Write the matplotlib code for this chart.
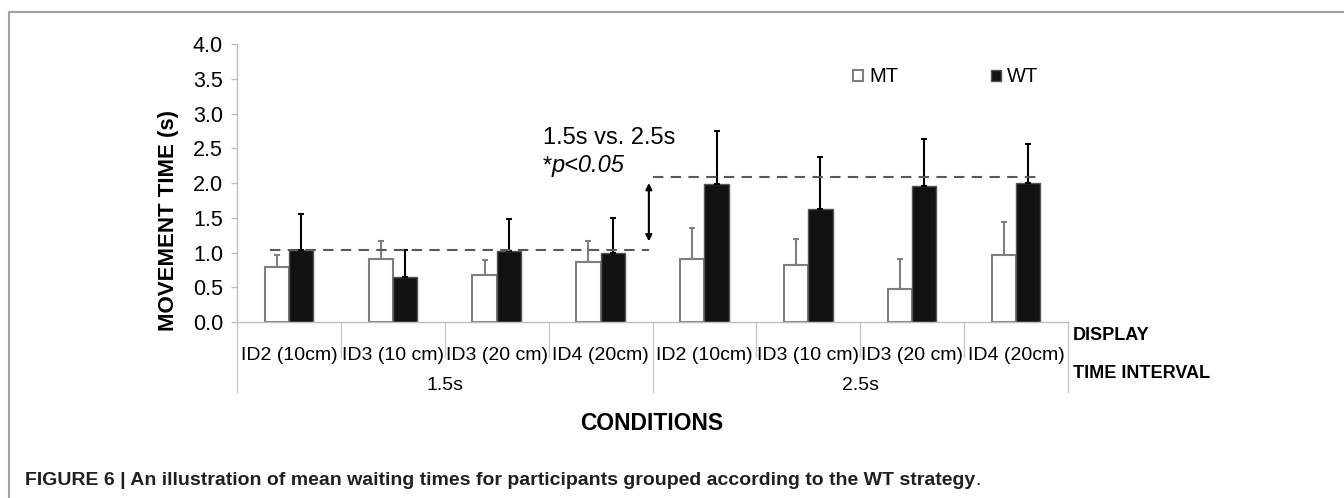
import matplotlib
matplotlib.use("Agg")
import matplotlib.pyplot as plt
import matplotlib.transforms as mtransforms
from matplotlib.patches import Patch
from matplotlib.lines import Line2D
from matplotlib.text import Annotation
import numpy as np

plt.rcParams['font.family'] = ['Liberation Sans', 'DejaVu Sans']

# ---------------- data ----------------
displays = ["ID2 (10cm)", "ID3 (10 cm)", "ID3 (20 cm)", "ID4 (20cm)",
            "ID2 (10cm)", "ID3 (10 cm)", "ID3 (20 cm)", "ID4 (20cm)"]
intervals = ["1.5s", "2.5s"]
mt_mean = [0.79, 0.90, 0.68, 0.86, 0.90, 0.82, 0.48, 0.96]
mt_err = [0.17, 0.27, 0.21, 0.30, 0.45, 0.37, 0.43, 0.48]
wt_mean = [1.04, 0.65, 1.02, 0.99, 1.99, 1.63, 1.96, 2.00]
wt_err = [0.51, 0.38, 0.46, 0.51, 0.76, 0.74, 0.68, 0.56]
ref_low = 1.04
ref_high = 2.09
arrow_lo, arrow_hi = 1.16, 2.00
yticks = [0.0, 0.5, 1.0, 1.5, 2.0, 2.5, 3.0, 3.5, 4.0]

W, H = 1344, 498
fig = plt.figure(figsize=(W / 100, H / 100), dpi=100)
ax = fig.add_axes([237 / W, 1 - 322 / H, (1068 - 237) / W, (322 - 44) / H])

x = np.arange(len(displays))
bw = 0.234
gray = '#7f7f7f'
ax.bar(x - bw / 2, mt_mean, bw, color='white', edgecolor=gray, linewidth=1.5, zorder=2)
ax.bar(x + bw / 2, wt_mean, bw, color='#111111', edgecolor='#555555', linewidth=1.0, zorder=2)
ax.errorbar(x - bw / 2, mt_mean, yerr=[np.zeros(len(mt_err)), mt_err], fmt='none',
            ecolor=gray, elinewidth=1.5, capsize=2.5, capthick=1.5, zorder=1)
ax.errorbar(x + bw / 2, wt_mean, yerr=[np.zeros(len(wt_err)), wt_err], fmt='none',
            ecolor='black', elinewidth=1.5, capsize=2.5, capthick=1.5, zorder=3)

ax.set_xlim(-0.5, len(displays) - 0.5)
ax.set_ylim(0, 4.0)
ax.set_yticks(yticks)
ax.set_yticklabels([f"{v:.1f}" for v in yticks], fontsize=15.5)
ax.tick_params(axis='y', length=4, width=1, color='#bfbfbf', pad=6)
ax.set_xticks(x)
ax.set_xticklabels(displays, fontsize=14)
ax.tick_params(axis='x', length=0, pad=18)

for s in ['top', 'right']:
    ax.spines[s].set_visible(False)
ax.spines['left'].set_color('#bfbfbf')
ax.spines['bottom'].set_color('#bfbfbf')
ax.spines['left'].set_linewidth(1)
ax.spines['bottom'].set_linewidth(1)

# separators below axis
trans = mtransforms.blended_transform_factory(ax.transData, ax.transAxes)
short_y = -(357 - 322) / (322 - 44)
long_y = -(392 - 322) / (322 - 44)
for b in np.arange(-0.5, len(displays), 1.0):
    is_group = b in (-0.5, 3.5, 7.5)
    ax.plot([b, b], [0, long_y if is_group else short_y], color='#c8c8c8', lw=1,
            transform=trans, clip_on=False)

gy = -(385 - 322) / (322 - 44)
for gi, lab in enumerate(intervals):
    ax.text(gi * 4 + 1.5, gy, lab, transform=trans, ha='center', va='center', fontsize=14)

# reference lines and arrow
ax.plot([-0.18, 3.47], [ref_low, ref_low], ls=(0, (5, 3.5)), color='#595959', lw=1.5, zorder=4)
ax.plot([3.5, 7.23], [ref_high, ref_high], ls=(0, (5, 3.5)), color='#595959', lw=1.5, zorder=4)
ax.annotate('', xy=(3.465, arrow_hi), xytext=(3.465, arrow_lo),
            arrowprops=dict(arrowstyle='<|-|>', color='black', lw=1.5, mutation_scale=9,
                            shrinkA=0, shrinkB=0))

ax.text(2.445, 2.65, "1.5s vs. 2.5s", fontsize=17, ha='left', va='center')
t2 = ax.text(2.445, 2.24, "*", fontsize=17, ha='left', va='center')
ax.annotate("p<0.05", xy=(1, 0), xycoords=t2, fontsize=17, style='italic',
            ha='left', va='bottom')

# y label
ax.set_ylabel("MOVEMENT TIME (s)", fontsize=16, fontweight='bold', va='center')
ax.yaxis.set_label_coords(-(237 - 168) / (1068 - 237), (322 - 220) / (322 - 44))

# row titles
fig.text(1073 / W, 1 - 336 / H, "DISPLAY", fontsize=13, fontweight='bold', va='center')
fig.text(1073 / W, 1 - 373 / H, "TIME INTERVAL", fontsize=13, fontweight='bold', va='center')
fig.text(652 / W, 1 - 423 / H, "CONDITIONS", fontsize=16.5, fontweight='bold',
         ha='center', va='center')

# legend
handles = [Patch(facecolor='white', edgecolor=gray, linewidth=1.5),
           Patch(facecolor='#111111', edgecolor='#555555', linewidth=1.0)]
fig.legend(handles, ["MT", "WT"], ncol=2, frameon=False, fontsize=14.5,
           loc='center left', bbox_to_anchor=(853 / W, 1 - 77 / H),
           handlelength=0.5, handleheight=0.5, handletextpad=0.3,
           columnspacing=4.6, borderpad=0, borderaxespad=0)

# frame
fig.add_artist(Line2D([9 / W, 1.0], [1 - 12 / H, 1 - 12 / H], color='#a0a0a0', lw=1.5))
fig.add_artist(Line2D([9 / W, 9 / W], [1 - 12 / H, 0.0], color='#a0a0a0', lw=1.5))

# caption
cap = fig.text(25 / W, 1 - 480 / H,
               "FIGURE 6 | An illustration of mean waiting times for participants grouped according to the WT strategy",
               fontsize=14, fontweight='bold', color='#231f20', va='center')
ann = Annotation(".", xy=(1, 0), xycoords=cap, fontsize=14, color='#231f20', va='bottom', ha='left')
fig.add_artist(ann)

fig.savefig("out.png", dpi=100, facecolor='white')
